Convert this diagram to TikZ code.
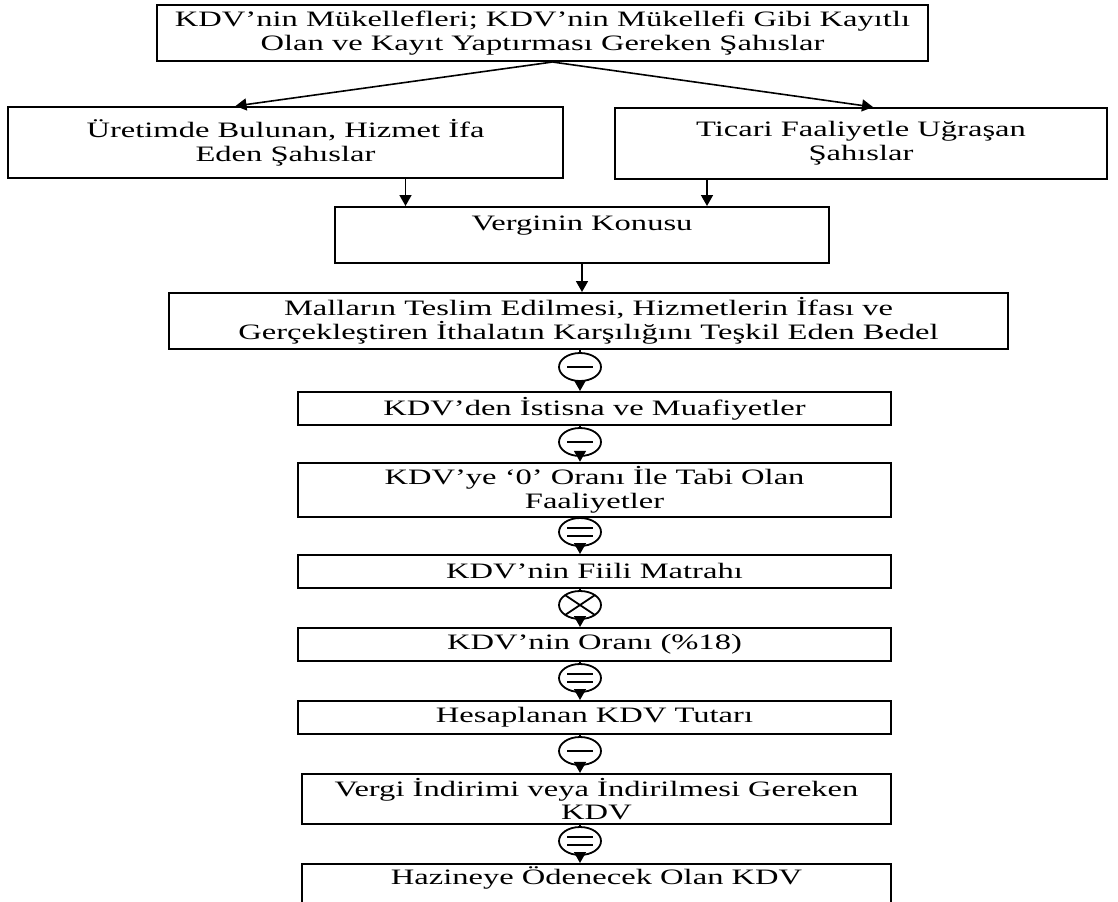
\documentclass[tikz,border=0pt]{standalone}
\usepackage{fontspec}
\setmainfont[FakeStretch=1.48]{Liberation Serif}
\usetikzlibrary{arrows.meta, shapes.geometric}

\tikzset{
  box/.style={draw, line width=1pt, align=center, inner sep=2pt,
    font=\fontsize{11}{11.8}\selectfont},
  op/.style={draw, ellipse, line width=0.9pt, minimum width=21pt,
    minimum height=14pt, inner sep=0pt},
  opminus/.style={op, path picture={
    \draw[line width=0.9pt] ([xshift=-6.5pt]path picture bounding box.center)
      -- ([xshift=6.5pt]path picture bounding box.center);}},
  opequal/.style={op, path picture={
    \draw[line width=0.9pt] ([xshift=-6.5pt,yshift=2pt]path picture bounding box.center)
      -- ([xshift=6.5pt,yshift=2pt]path picture bounding box.center);
    \draw[line width=0.9pt] ([xshift=-6.5pt,yshift=-2pt]path picture bounding box.center)
      -- ([xshift=6.5pt,yshift=-2pt]path picture bounding box.center);}},
  optimes/.style={op, path picture={
    \draw[line width=0.9pt] (path picture bounding box.north west)
      -- (path picture bounding box.south east);
    \draw[line width=0.9pt] (path picture bounding box.north east)
      -- (path picture bounding box.south west);}},
  conn/.style={line width=0.8pt}
}

\begin{document}
\begin{tikzpicture}[>={Triangle[length=5.5pt,width=6pt]}, x=0.5pt, y=-0.5pt]
  \useasboundingbox (0,0) rectangle (1118,901);
  \clip (0,0) rectangle (1118,901);
  % taxpayers
  \node[box, minimum width=385.5pt, minimum height=28pt] (muk) at (542.5,33)
    {KDV’nin Mükellefleri; KDV’nin Mükellefi Gibi Kayıtlı\\Olan ve Kayıt Yaptırması Gereken Şahıslar};
  \node[box, minimum width=277.5pt, minimum height=35.5pt] (uretim) at (285.5,142.5)
    {Üretimde Bulunan, Hizmet İfa\\Eden Şahıslar};
  \node[box, minimum width=246pt, minimum height=35.5pt] (ticari) at (861,143.5)
    {Ticari Faaliyetle Uğraşan\\Şahıslar};
  \node[box, minimum width=247pt, text height=9.5pt, text depth=14.5pt] (konu) at (582,235)
    {Verginin Konusu};
  \node[box, minimum width=419.5pt, minimum height=28pt] (bedel) at (588.5,321)
    {Malların Teslim Edilmesi, Hizmetlerin İfası ve\\Gerçekleştiren İthalatın Karşılığını Teşkil Eden Bedel};
  % calculation chain
  \node[box, minimum width=296.5pt, minimum height=16.5pt] (istisna) at (594.5,408.5)
    {KDV’den İstisna ve Muafiyetler};
  \node[box, minimum width=296.5pt, minimum height=25pt] (sifir) at (594.5,490)
    {KDV’ye ‘0’ Oranı İle Tabi Olan\\Faaliyetler};
  \node[box, minimum width=296.5pt, minimum height=16.5pt] (matrah) at (594.5,571.5)
    {KDV’nin Fiili Matrahı};
  \node[box, minimum width=296.5pt, minimum height=16.5pt] (oran) at (594.5,644.5)
    {KDV’nin Oranı (\%18)};
  \node[box, minimum width=296.5pt, minimum height=16.5pt] (hesap) at (594.5,717.5)
    {Hesaplanan KDV Tutarı};
  \node[box, minimum width=294.5pt, minimum height=25pt] (indirim) at (596.5,799)
    {Vergi İndirimi veya İndirilmesi Gereken\\KDV};
  \node[box, minimum width=294.5pt, text height=8pt, text depth=30pt] (hazine) at (596.5,906)
    {Hazineye Ödenecek Olan KDV};
  % operators
  \node[opminus] (e1) at (580,367) {};
  \node[opminus] (e2) at (580,442) {};
  \node[opequal] (e3) at (580,532) {};
  \node[optimes] (e4) at (580,605) {};
  \node[opequal] (e5) at (580,678) {};
  \node[opminus] (e6) at (580,751) {};
  \node[opequal] (e7) at (580,841) {};
  % arrows in the upper part
  \draw[conn, ->] ([xshift=5pt]muk.south) -- ([xshift=-25pt]uretim.north);
  \draw[conn, ->] ([xshift=5pt]muk.south) -- ([xshift=6pt]ticari.north);
  \draw[conn, ->] ([xshift=60pt]uretim.south) coordinate (u1) -- (u1 |- konu.north);
  \draw[conn, ->] ([xshift=-77pt]ticari.south) coordinate (t1) -- (t1 |- konu.north);
  \draw[conn, ->] (konu.south) -- (konu.south |- bedel.north);
  % arrows through the operators
  \draw[conn] (bedel.south -| e1.north) -- (e1.north);
  \draw[conn, ->] (e1.south) -- (e1.south |- istisna.north);
  \draw[conn] (istisna.south -| e2.north) -- (e2.north);
  \draw[conn, ->] (e2.south) -- (e2.south |- sifir.north);
  \draw[conn] (sifir.south -| e3.north) -- (e3.north);
  \draw[conn, ->] (e3.south) -- (e3.south |- matrah.north);
  \draw[conn] (matrah.south -| e4.north) -- (e4.north);
  \draw[conn, ->] (e4.south) -- (e4.south |- oran.north);
  \draw[conn] (oran.south -| e5.north) -- (e5.north);
  \draw[conn, ->] (e5.south) -- (e5.south |- hesap.north);
  \draw[conn] (hesap.south -| e6.north) -- (e6.north);
  \draw[conn, ->] (e6.south) -- (e6.south |- indirim.north);
  \draw[conn] (indirim.south -| e7.north) -- (e7.north);
  \draw[conn, ->] (e7.south) -- (e7.south |- hazine.north);
\end{tikzpicture}
\end{document}
